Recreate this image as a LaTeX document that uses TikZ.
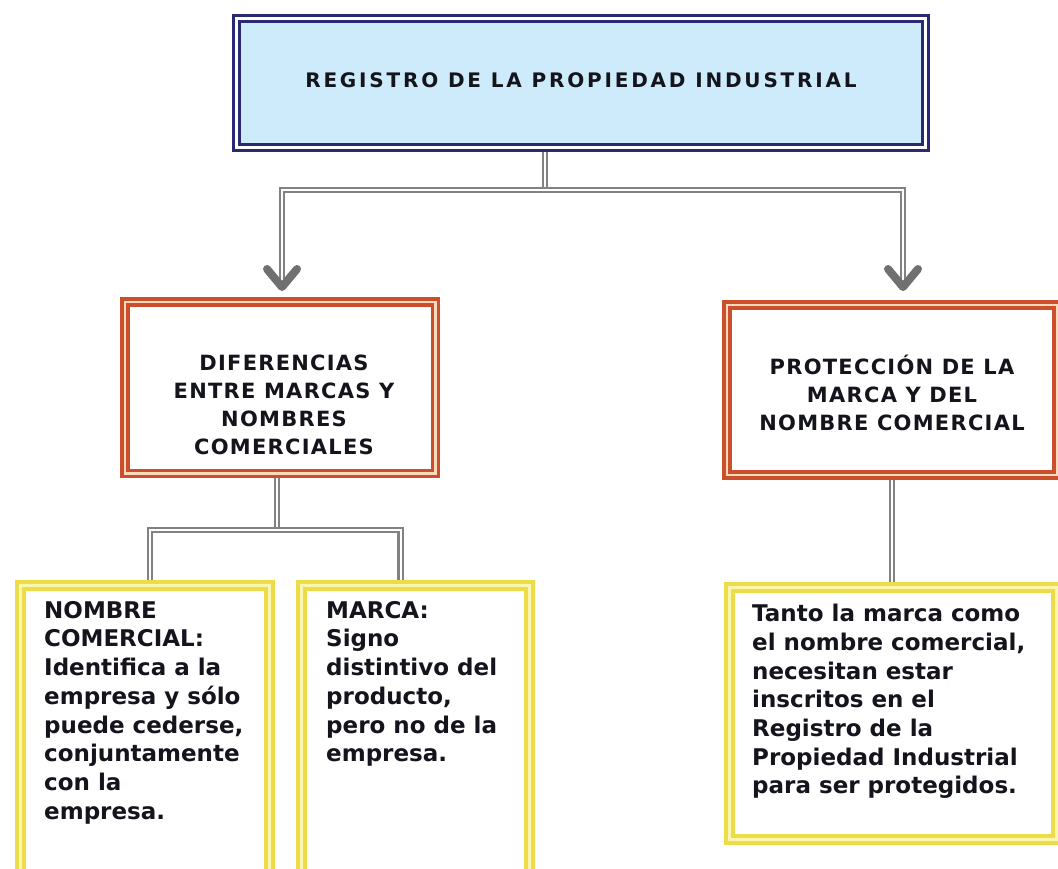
\documentclass[tikz,border=0pt]{standalone}
\usepackage{fontspec}
\setmainfont{DejaVu Sans}
\newfontfamily\titlefont{DejaVu Sans}[LetterSpace=14]
\newfontfamily\midfont{DejaVu Sans}[LetterSpace=6]
\usetikzlibrary{calc,backgrounds}
\definecolor{navyc}{RGB}{42,42,115}
\definecolor{skyc}{RGB}{205,235,250}
\definecolor{redc}{RGB}{205,78,42}
\definecolor{peachc}{RGB}{250,218,188}
\definecolor{yelc}{RGB}{236,221,72}
\definecolor{paleyelc}{RGB}{250,246,175}
\definecolor{linec}{RGB}{130,130,130}
\definecolor{chevc}{RGB}{112,112,112}
\definecolor{txtc}{RGB}{20,20,28}
\tikzset{
  navybox/.style={draw=navyc, line width=3pt, double=white, double distance=3pt, fill=skyc, inner sep=0pt},
  redbox/.style={draw=redc, line width=3.5pt, double=peachc, double distance=2.5pt, fill=white, inner sep=0pt},
  yelbox/.style={draw=yelc, line width=4pt, double=paleyelc, double distance=3pt, fill=white, inner sep=0pt},
  dbl/.style={draw=linec, line width=2.2pt, double=white, double distance=2pt},
  chev/.style={draw=chevc, line width=8pt, line join=round, line cap=round},
  titletext/.style={inner sep=0pt, text=txtc, font=\titlefont\bfseries\fontsize{20}{24}\selectfont},
  midtext/.style={inner sep=0pt, align=center, text=txtc, font=\midfont\bfseries\fontsize{21}{28}\selectfont},
  bodytext/.style={inner sep=0pt, anchor=north west, align=left, text=txtc, font=\bfseries\fontsize{23}{28.7}\selectfont},
}
\begin{document}
\begin{tikzpicture}[x=1pt,y=-1pt]
\useasboundingbox (0,0) rectangle (1058,868);
\clip (0,0) rectangle (1058,868);
% boxes
\node[navybox, minimum width=689pt, minimum height=129pt] (top) at (581,83) {};
\node[redbox, minimum width=310.5pt, minimum height=171.5pt] (lm) at (280,387.5) {};
\node[redbox, minimum width=330pt, minimum height=170pt] (rm) at (892,390) {};
\node[yelbox, minimum width=249pt, minimum height=289pt] (b1) at (145,730) {};
\node[yelbox, minimum width=228pt, minimum height=289pt] (b2) at (415.5,730) {};
\node[yelbox, minimum width=327pt, minimum height=252pt] (b3) at (893,713.5) {};
% texts
\node[titletext] (ttop) at ($(top.center)+(0,-3)$) {REGISTRO DE LA PROPIEDAD INDUSTRIAL};
\node[midtext] (tlm) at ($(lm.center)+(4,17)$) {DIFERENCIAS\\ENTRE MARCAS Y\\NOMBRES\\COMERCIALES};
\node[midtext] (trm) at ($(rm.center)+(0,3)$) {PROTECCIÓN DE LA\\MARCA Y DEL\\NOMBRE COMERCIAL};
\node[bodytext] (tb1) at (44,601) {NOMBRE\\COMERCIAL:\\Identifica a la\\empresa y sólo\\puede cederse,\\conjuntamente\\con la\\empresa.};
\node[bodytext] (tb2) at (326,601) {MARCA:\\Signo\\distintivo del\\producto,\\pero no de la\\empresa.};
\node[bodytext] (tb3) at (752,604) {Tanto la marca como\\el nombre comercial,\\necesitan estar\\inscritos en el\\Registro de la\\Propiedad Industrial\\para ser protegidos.};
% connectors
\coordinate (s1) at ([xshift=-36pt]top.south);
\coordinate (bar) at (545,190);
\coordinate (aL) at (282,287);
\coordinate (aR) at (903,287);
\coordinate (bar2) at (277,530);
\begin{scope}[on background layer]
\fill[white] (0,0) rectangle (1058,868);
\draw[dbl] (s1) -- (bar);
\draw[dbl] (aL) |- (bar) -| (aR);
\draw[dbl] (lm.south -| bar2) -- (bar2);
\draw[dbl] ([xshift=5pt]b1.north) |- (bar2) -| ([xshift=-15pt]b2.north);
\draw[dbl] (rm.south) -- (rm.south |- b3.north);
\end{scope}
\draw[chev] ($(aL)+(-15,-18)$) -- (aL) -- ($(aL)+(15,-18)$);
\draw[chev] ($(aR)+(-15,-18)$) -- (aR) -- ($(aR)+(15,-18)$);
\end{tikzpicture}
\end{document}
